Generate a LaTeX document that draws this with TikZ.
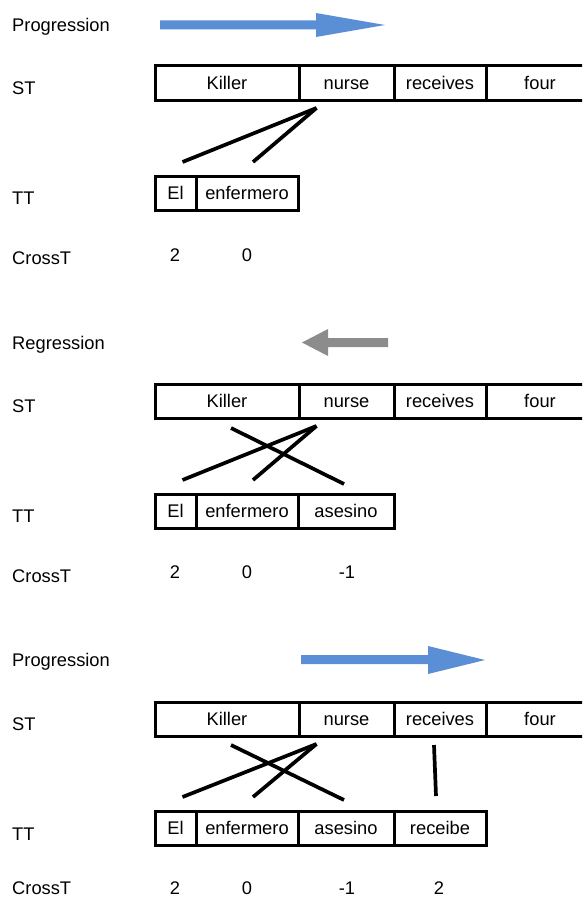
\documentclass[tikz,border=0pt]{standalone}
\usepackage{fontspec}
\setmainfont{Liberation Sans}
\usetikzlibrary{positioning}
\definecolor{progblue}{RGB}{91,143,213}
\definecolor{reggray}{RGB}{140,140,140}
\tikzset{
  cell/.style={draw, line width=3pt, minimum height=34pt, inner sep=0pt, outer sep=0pt,
    text height=13pt, text depth=0pt, font=\fontsize{18.3}{21}\selectfont},
  lbl/.style={anchor=west, inner sep=0pt, text height=13pt, text depth=0pt,
    font=\fontsize{18.3}{21}\selectfont},
  num/.style={inner sep=0pt, text height=13pt, text depth=0pt,
    font=\fontsize{18.3}{21}\selectfont},
  link/.style={line width=3.7pt},
  progarrow/.style={fill=progblue},
  regarrow/.style={fill=reggray}
}

\begin{document}
\begin{tikzpicture}[x=1pt,y=-1pt]
\clip (0,0) rectangle (582,899);

% Panel 1: progression
\node[lbl] (prog1) at (12,25) {Progression};
\node[lbl] (st1) at (12,88) {ST};
\node[lbl] (tt1) at (12,198) {TT};
\node[lbl] (ct1) at (12,258) {CrossT};
\fill[progarrow] (160,20.5) -- (316,20.5) -- (316,13) -- (385,25) -- (316,37) -- (316,29.5) -- (160,29.5) -- cycle;
\node[cell, minimum width=144pt, anchor=west] (k1) at (155,83) {Killer};
\node[cell, minimum width=95pt, right=0pt of k1] (n1) {nurse};
\node[cell, minimum width=92pt, right=0pt of n1] (r1) {receives};
\node[cell, minimum width=108pt, right=0pt of r1] (f1) {four};
\node[cell, minimum width=41pt, anchor=west] (el1) at (155,193) {El};
\node[cell, minimum width=102pt, right=0pt of el1] (en1) {enfermero};
\draw[link] ([shift={(-30,8)}]n1.south) -- ([shift={(7,-14)}]el1.north);
\draw[link] ([shift={(-30,8)}]n1.south) -- ([shift={(6,-14)}]en1.north);
\node[num] (c11) at (175,255) {2};
\node[num] (c12) at (247,255) {0};

% Panel 2: regression
\node[lbl] (reg2) at (12,343) {Regression};
\node[lbl] (st2) at (12,406) {ST};
\node[lbl] (tt2) at (12,516) {TT};
\node[lbl] (ct2) at (12,576) {CrossT};
\fill[regarrow] (388,338) -- (328,338) -- (328,329) -- (302,342.5) -- (328,356) -- (328,347) -- (388,347) -- cycle;
\node[cell, minimum width=144pt, anchor=west] (k2) at (155,401) {Killer};
\node[cell, minimum width=95pt, right=0pt of k2] (n2) {nurse};
\node[cell, minimum width=92pt, right=0pt of n2] (r2) {receives};
\node[cell, minimum width=108pt, right=0pt of r2] (f2) {four};
\node[cell, minimum width=41pt, anchor=west] (el2) at (155,511) {El};
\node[cell, minimum width=102pt, right=0pt of el2] (en2) {enfermero};
\node[cell, minimum width=96pt, right=0pt of en2] (as2) {asesino};
\draw[link] ([shift={(-30,8)}]n2.south) -- ([shift={(7,-14)}]el2.north);
\draw[link] ([shift={(-30,8)}]n2.south) -- ([shift={(6,-14)}]en2.north);
\draw[link] ([shift={(4,10)}]k2.south) -- ([shift={(-2,-10)}]as2.north);
\node[num] (c21) at (175,572) {2};
\node[num] (c22) at (247,572) {0};
\node[num] (c23) at (347,572) {-1};

% Panel 3: progression again
\node[lbl] (prog3) at (12,660) {Progression};
\node[lbl] (st3) at (12,724) {ST};
\node[lbl] (tt3) at (12,834) {TT};
\node[lbl] (ct3) at (12,888) {CrossT};
\fill[progarrow] (301,655) -- (428,655) -- (428,646) -- (485,660) -- (428,674) -- (428,664) -- (301,664) -- cycle;
\node[cell, minimum width=144pt, anchor=west] (k3) at (155,719) {Killer};
\node[cell, minimum width=95pt, right=0pt of k3] (n3) {nurse};
\node[cell, minimum width=92pt, right=0pt of n3] (r3) {receives};
\node[cell, minimum width=108pt, right=0pt of r3] (f3) {four};
\node[cell, minimum width=41pt, anchor=west] (el3) at (155,828) {El};
\node[cell, minimum width=102pt, right=0pt of el3] (en3) {enfermero};
\node[cell, minimum width=96pt, right=0pt of en3] (as3) {asesino};
\node[cell, minimum width=92pt, right=0pt of as3] (rc3) {receibe};
\draw[link] ([shift={(-30,8)}]n3.south) -- ([shift={(7,-14)}]el3.north);
\draw[link] ([shift={(-30,8)}]n3.south) -- ([shift={(6,-14)}]en3.north);
\draw[link] ([shift={(4,9)}]k3.south) -- ([shift={(-2,-11)}]as3.north);
\draw[link] ([shift={(-6,9)}]r3.south) -- ([shift={(-4,-15)}]rc3.north);
\node[num] (c31) at (175,888) {2};
\node[num] (c32) at (247,888) {0};
\node[num] (c33) at (347,888) {-1};
\node[num] (c34) at (439,888) {2};
\end{tikzpicture}
\end{document}
